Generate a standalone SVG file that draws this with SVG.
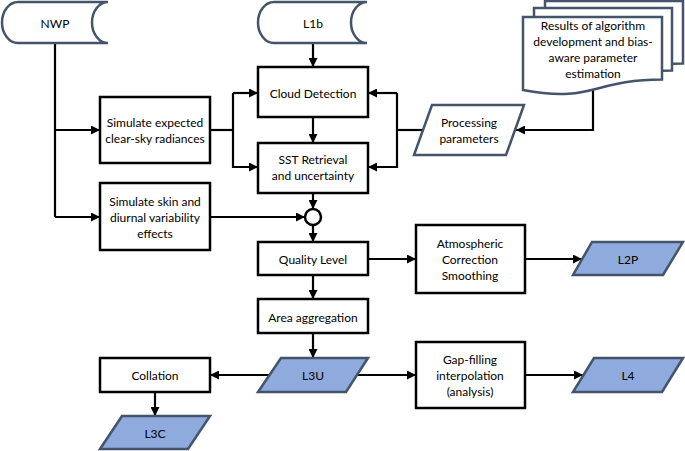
<svg xmlns="http://www.w3.org/2000/svg" width="685" height="451" viewBox="0 0 685 451">
<style>
text{font-family:Lato,"Liberation Sans",sans-serif;font-size:12px;fill:#000;text-anchor:middle;dominant-baseline:central}
.box{fill:#fff;stroke:#000;stroke-width:2.5}
.store{fill:#fff;stroke:#44546A;stroke-width:2.5}
.data{fill:#8FAADC;stroke:#44546A;stroke-width:2.5}
.doc{fill:#fff;stroke:#44546A;stroke-width:2.5}
.con{fill:none;stroke:#000;stroke-width:2.2}
.arr{marker-end:url(#ah)}
</style>
<defs>
<marker id="ah" viewBox="0 0 10 10" refX="10" refY="5" markerWidth="9" markerHeight="9" markerUnits="userSpaceOnUse" orient="auto">
<path d="M0,0 L10,5 L0,10 Z" fill="#000"/>
</marker>
</defs>

<g id="connectors">
<path class="con" d="M55,43 V217"/>
<path class="con arr" d="M55,130 H100"/>
<path class="con arr" d="M55,217 H100"/>
<path class="con" d="M210,130 H233"/>
<path class="con arr" d="M233,93 V167 H258"/>
<path class="con arr" d="M233,93 H258"/>
<path class="con arr" d="M313,43 V67"/>
<path class="con arr" d="M313,117 V143"/>
<path class="con arr" d="M593,88 V130 H516"/>
<path class="con" d="M423,130 H397"/>
<path class="con arr" d="M397,93 V167 H368"/>
<path class="con arr" d="M397,93 H368"/>
<path class="con arr" d="M313,193 V209"/>
<path class="con arr" d="M210,217 H305"/>
<path class="con arr" d="M313,225 V242"/>
<path class="con arr" d="M313,275 V299"/>
<path class="con arr" d="M313,333 V358"/>
<path class="con arr" d="M368,259 H416"/>
<path class="con arr" d="M525,259 H582"/>
<path class="con arr" d="M269,375 H210"/>
<path class="con arr" d="M357,375 H416"/>
<path class="con arr" d="M525,375 H583"/>
<path class="con arr" d="M155,392 V416"/>
</g>

<g id="nwp">
<path class="store" d="M18,2 H108 A16,20.5 0 0 0 108,43 H18 A16,20.5 0 0 1 18,2 Z"/>
<text x="55" y="23">NWP</text>
</g>
<g id="l1b">
<path class="store" d="M274,2 H367 A16,20.5 0 0 0 367,43 H274 A16,20.5 0 0 1 274,2 Z"/>
<text x="313" y="23">L1b</text>
</g>
<g id="results">
<path class="doc" d="M545,1 H683 V63.6 C613.5,63.6 613.5,87.4 545,74 Z"/>
<path class="doc" d="M534,8 H672 V70.6 C602.5,70.6 602.5,94.4 534,81 Z"/>
<path class="doc" d="M523,17 H662 V79.6 C592.5,79.6 592.5,103.4 523,90 Z"/>
<text x="593" y="25">Results of algorithm</text>
<text x="593" y="41">development and bias-</text>
<text x="593" y="57">aware parameter</text>
<text x="593" y="73">estimation</text>
</g>
<g id="cloud">
<rect class="box" x="258" y="67" width="110" height="50"/>
<text x="313" y="93">Cloud Detection</text>
</g>
<g id="clearsky">
<rect class="box" x="100" y="97" width="110" height="66"/>
<text x="155" y="122">Simulate expected</text>
<text x="155" y="138">clear-sky radiances</text>
</g>
<g id="procparams">
<path class="store" d="M432,105 H524 L506,155 H414 Z"/>
<text x="469" y="122">Processing</text>
<text x="469" y="138">parameters</text>
</g>
<g id="sst">
<rect class="box" x="258" y="143" width="110" height="50"/>
<text x="313" y="159">SST Retrieval</text>
<text x="313" y="175">and uncertainty</text>
</g>
<g id="skin">
<rect class="box" x="100" y="183" width="110" height="67"/>
<text x="155" y="201">Simulate skin and</text>
<text x="155" y="217">diurnal variability</text>
<text x="155" y="233">effects</text>
</g>
<g id="junction">
<circle cx="313" cy="217" r="8" fill="#fff" stroke="#000" stroke-width="2.5"/>
</g>
<g id="quality">
<rect class="box" x="258" y="242" width="110" height="33"/>
<text x="313" y="259">Quality Level</text>
</g>
<g id="atmos">
<rect class="box" x="416" y="225" width="109" height="68"/>
<text x="470" y="243">Atmospheric</text>
<text x="470" y="259">Correction</text>
<text x="470" y="275">Smoothing</text>
</g>
<g id="l2p">
<path class="data" d="M592,242 H683 L663,275 H573 Z"/>
<text x="628" y="259">L2P</text>
</g>
<g id="area">
<rect class="box" x="258" y="299" width="110" height="34"/>
<text x="313" y="317">Area aggregation</text>
</g>
<g id="l3u">
<path class="data" d="M281,358 H368 L346,392 H258 Z"/>
<text x="313" y="375">L3U</text>
</g>
<g id="collation">
<rect class="box" x="100" y="358" width="110" height="34"/>
<text x="155" y="375">Collation</text>
</g>
<g id="gap">
<rect class="box" x="416" y="342" width="109" height="66"/>
<text x="470" y="359">Gap-filling</text>
<text x="470" y="375">interpolation</text>
<text x="470" y="391">(analysis)</text>
</g>
<g id="l4">
<path class="data" d="M594,358 H683 L662,392 H573 Z"/>
<text x="628" y="375">L4</text>
</g>
<g id="l3c">
<path class="data" d="M122,416 H210 L188,449 H100 Z"/>
<text x="155" y="433">L3C</text>
</g>
</svg>
